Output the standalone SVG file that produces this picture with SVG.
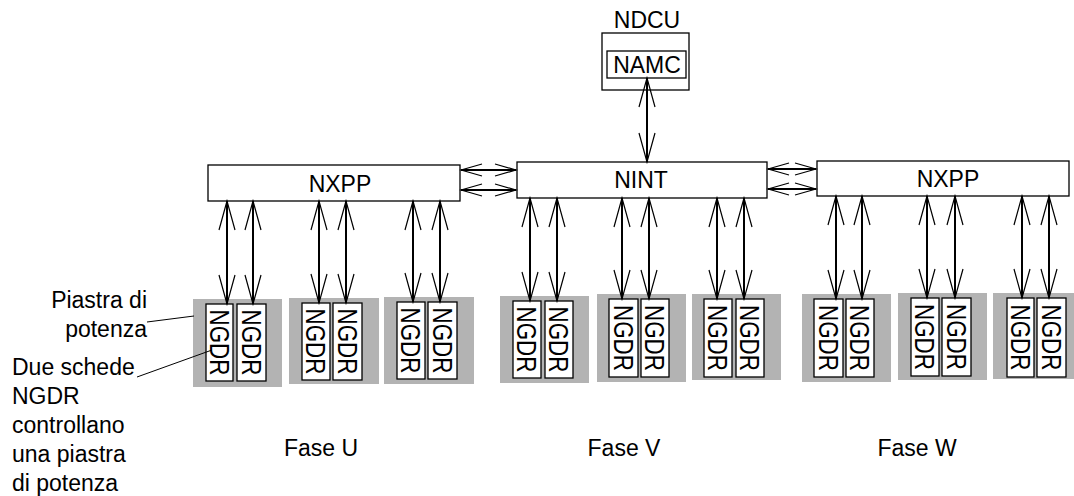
<svg xmlns="http://www.w3.org/2000/svg" width="1074" height="496" viewBox="0 0 1074 496">
<style>
text{font-family:"Liberation Sans",Arial,sans-serif;fill:#000}
.t{font-size:23px;text-anchor:middle}
.lbl{font-size:23px}
.box{fill:#fff;stroke:#000;stroke-width:1.3}
.plate{fill:#b3b3b3;stroke:none}
.card{fill:#fff;stroke:#000;stroke-width:1.3}
.ng{font-size:27px;text-anchor:middle}
.sh{stroke:#000;stroke-width:2;fill:none}
.ld{stroke:#000;stroke-width:1;fill:none}
</style>
<defs>
<marker id="av" markerUnits="userSpaceOnUse" viewBox="0 0 32 20" markerWidth="32" markerHeight="20" refX="30" refY="10" orient="auto-start-reverse">
<path d="M1,2 L30,10 L1,18" fill="none" stroke="#000" stroke-width="1.2"/>
</marker>
<marker id="ah" markerUnits="userSpaceOnUse" viewBox="0 0 24 16" markerWidth="24" markerHeight="16" refX="22" refY="8" orient="auto-start-reverse">
<path d="M1,2 L22,8 L1,14" fill="none" stroke="#000" stroke-width="1.2"/>
</marker>
</defs>

<g id="ndcu">
<rect class="box" x="602" y="33" width="87" height="57"/>
<text class="t" x="647" y="28">NDCU</text>
</g>
<g id="namc">
<rect class="box" x="607" y="51" width="79" height="27"/>
<text class="t" x="647" y="73">NAMC</text>
</g>
<g id="nxpp-left">
<rect class="box" x="208" y="165" width="252" height="36"/>
<text class="t" x="340" y="192">NXPP</text>
</g>
<g id="nint">
<rect class="box" x="517" y="162" width="250" height="36"/>
<text class="t" x="641" y="188">NINT</text>
</g>
<g id="nxpp-right">
<rect class="box" x="817" y="161" width="252" height="35"/>
<text class="t" x="948" y="187">NXPP</text>
</g>

<g id="plates">
<rect class="plate" x="193" y="299" width="89" height="88"/>
<rect class="plate" x="289" y="298" width="90" height="86"/>
<rect class="plate" x="384" y="297" width="90" height="87"/>
<rect class="plate" x="500" y="296" width="89" height="87"/>
<rect class="plate" x="597" y="294" width="89" height="88"/>
<rect class="plate" x="692" y="294" width="89" height="86"/>
<rect class="plate" x="802" y="294" width="89" height="88"/>
<rect class="plate" x="898" y="293" width="89" height="87"/>
<rect class="plate" x="993" y="293" width="81" height="86"/>
</g>

<g id="ngdr-1"><rect class="card" x="206" y="304" width="27" height="77"/><text class="ng" transform="translate(219.5,342.5) rotate(90)" x="0" y="9.7" textLength="66" lengthAdjust="spacingAndGlyphs">NGDR</text></g>
<g id="ngdr-2"><rect class="card" x="237" y="304" width="29" height="77"/><text class="ng" transform="translate(251.5,342.5) rotate(90)" x="0" y="9.7" textLength="66" lengthAdjust="spacingAndGlyphs">NGDR</text></g>
<g id="ngdr-3"><rect class="card" x="302" y="303" width="28" height="77"/><text class="ng" transform="translate(316,341.5) rotate(90)" x="0" y="9.7" textLength="66" lengthAdjust="spacingAndGlyphs">NGDR</text></g>
<g id="ngdr-4"><rect class="card" x="333" y="303" width="29" height="77"/><text class="ng" transform="translate(347.5,341.5) rotate(90)" x="0" y="9.7" textLength="66" lengthAdjust="spacingAndGlyphs">NGDR</text></g>
<g id="ngdr-5"><rect class="card" x="397" y="302" width="28" height="77"/><text class="ng" transform="translate(411,340.5) rotate(90)" x="0" y="9.7" textLength="66" lengthAdjust="spacingAndGlyphs">NGDR</text></g>
<g id="ngdr-6"><rect class="card" x="428" y="302" width="29" height="77"/><text class="ng" transform="translate(442.5,340.5) rotate(90)" x="0" y="9.7" textLength="66" lengthAdjust="spacingAndGlyphs">NGDR</text></g>
<g id="ngdr-7"><rect class="card" x="513" y="301" width="28" height="77"/><text class="ng" transform="translate(527,339.5) rotate(90)" x="0" y="9.7" textLength="66" lengthAdjust="spacingAndGlyphs">NGDR</text></g>
<g id="ngdr-8"><rect class="card" x="545" y="301" width="28" height="77"/><text class="ng" transform="translate(559,339.5) rotate(90)" x="0" y="9.7" textLength="66" lengthAdjust="spacingAndGlyphs">NGDR</text></g>
<g id="ngdr-9"><rect class="card" x="609" y="299" width="29" height="78"/><text class="ng" transform="translate(623.5,338) rotate(90)" x="0" y="9.7" textLength="66" lengthAdjust="spacingAndGlyphs">NGDR</text></g>
<g id="ngdr-10"><rect class="card" x="641" y="299" width="28" height="78"/><text class="ng" transform="translate(655,338) rotate(90)" x="0" y="9.7" textLength="66" lengthAdjust="spacingAndGlyphs">NGDR</text></g>
<g id="ngdr-11"><rect class="card" x="704" y="299" width="28" height="78"/><text class="ng" transform="translate(718,338) rotate(90)" x="0" y="9.7" textLength="66" lengthAdjust="spacingAndGlyphs">NGDR</text></g>
<g id="ngdr-12"><rect class="card" x="736" y="299" width="28" height="78"/><text class="ng" transform="translate(750,338) rotate(90)" x="0" y="9.7" textLength="66" lengthAdjust="spacingAndGlyphs">NGDR</text></g>
<g id="ngdr-13"><rect class="card" x="814" y="299" width="29" height="78"/><text class="ng" transform="translate(828.5,338) rotate(90)" x="0" y="9.7" textLength="66" lengthAdjust="spacingAndGlyphs">NGDR</text></g>
<g id="ngdr-14"><rect class="card" x="846" y="299" width="28" height="78"/><text class="ng" transform="translate(860,338) rotate(90)" x="0" y="9.7" textLength="66" lengthAdjust="spacingAndGlyphs">NGDR</text></g>
<g id="ngdr-15"><rect class="card" x="911" y="298" width="28" height="78"/><text class="ng" transform="translate(925,337) rotate(90)" x="0" y="9.7" textLength="66" lengthAdjust="spacingAndGlyphs">NGDR</text></g>
<g id="ngdr-16"><rect class="card" x="942" y="298" width="29" height="78"/><text class="ng" transform="translate(956.5,337) rotate(90)" x="0" y="9.7" textLength="66" lengthAdjust="spacingAndGlyphs">NGDR</text></g>
<g id="ngdr-17"><rect class="card" x="1007" y="298" width="27" height="79"/><text class="ng" transform="translate(1020.5,337.5) rotate(90)" x="0" y="9.7" textLength="66" lengthAdjust="spacingAndGlyphs">NGDR</text></g>
<g id="ngdr-18"><rect class="card" x="1037" y="298" width="29" height="79"/><text class="ng" transform="translate(1051.5,337.5) rotate(90)" x="0" y="9.7" textLength="66" lengthAdjust="spacingAndGlyphs">NGDR</text></g>

<g id="connectors">
<line class="sh" x1="647" y1="78" x2="647" y2="162" marker-start="url(#av)" marker-end="url(#av)"/>
<line class="sh" x1="461" y1="170" x2="516" y2="170" marker-start="url(#ah)" marker-end="url(#ah)"/>
<line class="sh" x1="461" y1="190" x2="516" y2="190" marker-start="url(#ah)" marker-end="url(#ah)"/>
<line class="sh" x1="768" y1="169" x2="816" y2="169" marker-start="url(#ah)" marker-end="url(#ah)"/>
<line class="sh" x1="768" y1="189" x2="816" y2="189" marker-start="url(#ah)" marker-end="url(#ah)"/>

<line class="sh" x1="227" y1="201" x2="227" y2="304" marker-start="url(#av)" marker-end="url(#av)"/>
<line class="sh" x1="253" y1="201" x2="253" y2="304" marker-start="url(#av)" marker-end="url(#av)"/>
<line class="sh" x1="319" y1="201" x2="319" y2="303" marker-start="url(#av)" marker-end="url(#av)"/>
<line class="sh" x1="346" y1="201" x2="346" y2="303" marker-start="url(#av)" marker-end="url(#av)"/>
<line class="sh" x1="413" y1="201" x2="413" y2="302" marker-start="url(#av)" marker-end="url(#av)"/>
<line class="sh" x1="440" y1="201" x2="440" y2="302" marker-start="url(#av)" marker-end="url(#av)"/>

<line class="sh" x1="530" y1="198" x2="530" y2="301" marker-start="url(#av)" marker-end="url(#av)"/>
<line class="sh" x1="557" y1="198" x2="557" y2="301" marker-start="url(#av)" marker-end="url(#av)"/>
<line class="sh" x1="622" y1="198" x2="622" y2="299" marker-start="url(#av)" marker-end="url(#av)"/>
<line class="sh" x1="649" y1="198" x2="649" y2="299" marker-start="url(#av)" marker-end="url(#av)"/>
<line class="sh" x1="717" y1="198" x2="717" y2="299" marker-start="url(#av)" marker-end="url(#av)"/>
<line class="sh" x1="744" y1="198" x2="744" y2="299" marker-start="url(#av)" marker-end="url(#av)"/>

<line class="sh" x1="836" y1="196" x2="836" y2="299" marker-start="url(#av)" marker-end="url(#av)"/>
<line class="sh" x1="862" y1="196" x2="862" y2="299" marker-start="url(#av)" marker-end="url(#av)"/>
<line class="sh" x1="927" y1="196" x2="927" y2="298" marker-start="url(#av)" marker-end="url(#av)"/>
<line class="sh" x1="955" y1="196" x2="955" y2="298" marker-start="url(#av)" marker-end="url(#av)"/>
<line class="sh" x1="1022" y1="196" x2="1022" y2="298" marker-start="url(#av)" marker-end="url(#av)"/>
<line class="sh" x1="1049" y1="196" x2="1049" y2="298" marker-start="url(#av)" marker-end="url(#av)"/>

<line class="ld" x1="147" y1="322" x2="194" y2="316"/>
<line class="ld" x1="137" y1="377" x2="212" y2="350"/>
</g>

<g id="labels">
<text class="lbl" x="147" y="308" text-anchor="end">Piastra di</text>
<text class="lbl" x="147" y="337" text-anchor="end">potenza</text>
<text class="lbl" x="12" y="375">Due schede</text>
<text class="lbl" x="12" y="404">NGDR</text>
<text class="lbl" x="12" y="433">controllano</text>
<text class="lbl" x="12" y="462">una piastra</text>
<text class="lbl" x="12" y="491">di potenza</text>
<text class="t" x="321" y="456">Fase U</text>
<text class="t" x="624" y="456">Fase V</text>
<text class="t" x="917" y="456">Fase W</text>
</g>
</svg>
